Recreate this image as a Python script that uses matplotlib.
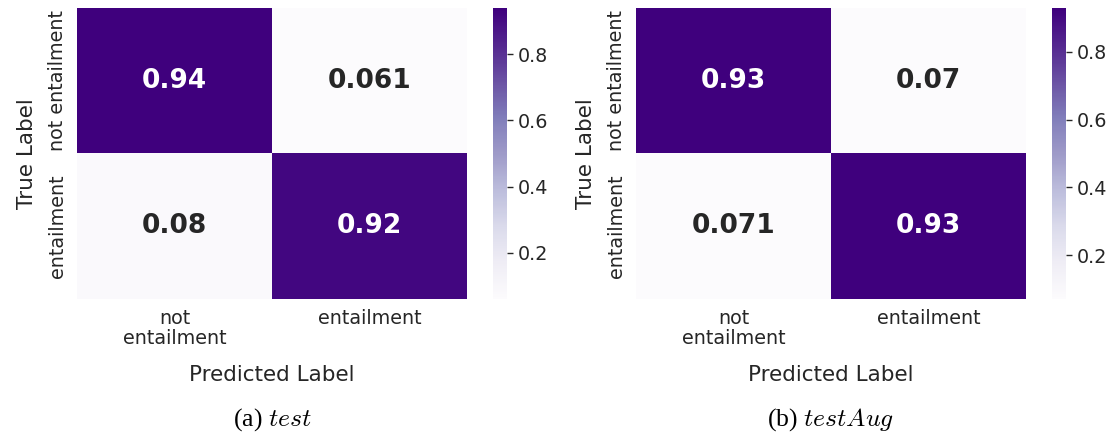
import numpy as np
import matplotlib
matplotlib.use("Agg")
import matplotlib.pyplot as plt
import seaborn as sns

# Row-normalised confusion matrices
labels = ["not\nentailment", "entailment"]
row_labels = ["not entailment", "entailment"]
cm_test = [[0.939, 0.061],
           [0.08, 0.92]]
cm_test_aug = [[0.93, 0.07],
               [0.071, 0.929]]
captions = ["(a) $test$", "(b) $testAug$"]

sns.set_theme(style="white")
plt.rcParams["font.family"] = ["DejaVu Sans"]
plt.rcParams["mathtext.fontset"] = "cm"

fig = plt.figure(figsize=(11.1, 4.36), dpi=100)
W, H = 1110, 436

def px_axes(x0, y0, x1, y1):
    return fig.add_axes([x0 / W, 1 - y1 / H, (x1 - x0) / W, (y1 - y0) / H])

panels = [(cm_test, 77, captions[0]), (cm_test_aug, 636, captions[1])]

for cm, left, cap in panels:
    ax = px_axes(left, 8, left + 390, 299)
    cax = px_axes(left + 416, 8, left + 430, 299)
    sns.heatmap(np.array(cm), ax=ax, cbar_ax=cax, cmap="Purples", annot=True,
                fmt=".2g", annot_kws={"size": 19, "weight": "bold"},
                xticklabels=labels, yticklabels=row_labels)
    ax.tick_params(axis="both", labelsize=13.8, length=0, pad=7, colors="#262626")
    ax.set_yticklabels(row_labels, rotation=90, va="center")
    ax.set_xticklabels(labels, rotation=0, linespacing=1.1)
    ax.set_xlabel("Predicted Label", fontsize=15.5, labelpad=12, color="#262626")
    ax.set_ylabel("True Label", fontsize=15.5, labelpad=8, color="#262626")
    cax.tick_params(labelsize=13.8, colors="#262626", length=4, width=1)
    for sp in cax.spines.values():
        sp.set_visible(False)
    fig.text((left + 195) / W, 1 - 420 / H, cap, ha="center", va="center",
             fontsize=18.5, family="Liberation Serif", color="black")

fig.savefig("out.png", dpi=100)
